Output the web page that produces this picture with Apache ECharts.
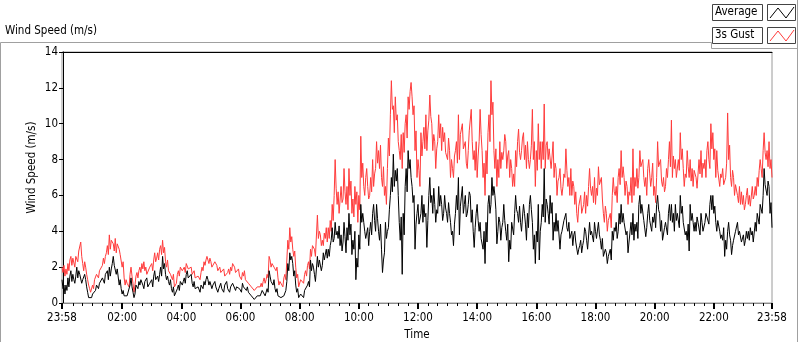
<!DOCTYPE html>
<html>
<head>
<meta charset="utf-8">
<script src="https://cdn.jsdelivr.net/npm/echarts@6/dist/echarts.min.js"></script>
<style>
  html, body { margin: 0; padding: 0; background: #fff; }
  #chart { width: 800px; height: 342px; }
</style>
</head>
<body>
<div id="chart"></div>
<script>
// one sample every 2 minutes, first one at 23:58 of the previous day
// (each row below is one hour)
const startMinute = -2
const stepMinutes = 2

const gust = [
  2.0,1.7,2.1, 1.5,1.9,1.6, 2.2,1.8,2.4, 2.6,2.1,2.5, 2.4,2.0,2.6, 2.7,2.3,2.9, 3.0,3.4,2.6, 2.2,1.8,2.3, 2.0,1.6,1.3, 1.0,0.8,0.6,
  0.7,1.0,0.8, 1.3,1.2,1.6, 1.5,1.4,1.8, 1.9,1.7,2.1, 2.5,2.2,2.6, 2.8,3.2,2.7, 3.8,3.0,3.5, 3.6,3.3,2.9, 3.6,2.8,3.3, 3.2,3.0,2.7,
  2.6,2.0,2.3, 1.4,1.0,1.3, 1.1,1.2,0.9, 1.6,2.0,1.5, 1.1,0.6,1.0, 1.5,1.7,1.4, 1.8,2.0,1.7, 2.2,1.9,2.3, 1.8,2.0,1.6, 1.7,1.7,2.0,
  1.9,2.2,1.8, 2.4,2.8,2.3, 2.5,2.8,2.4, 3.0,3.2,2.7, 3.5,2.8,3.1, 2.3,2.0,2.4, 1.8,1.9,1.6, 1.5,1.3,1.6, 0.9,0.8,1.1, 1.6,1.8,1.5,
  2.0,2.1,1.8, 1.9,2.0,1.7, 2.2,2.1,1.9, 1.9,1.8,2.0, 1.6,1.5,1.8, 1.4,1.3,1.5, 1.5,1.6,1.3, 1.7,2.0,1.8, 2.3,2.1,2.4, 2.6,2.5,2.2,
  2.5,2.3,2.0, 2.1,2.0,2.3, 2.2,2.1,1.8, 1.9,2.0,1.7, 1.8,1.6,1.9, 1.5,1.6,1.4, 1.7,1.9,1.6, 2.0,1.8,2.2, 2.1,2.0,1.7, 1.8,1.7,1.9,
  1.5,1.6,1.3, 1.7,1.5,1.8, 1.3,1.2,1.4, 1.1,1.0,1.2, 0.9,0.8,1.0, 0.7,0.8,0.6, 0.9,1.0,0.8, 0.9,1.1,0.9, 1.2,1.4,1.1, 1.3,1.6,1.4,
  2.6,2.4,2.0, 2.2,2.3,2.0, 2.1,1.8,2.0, 1.4,1.0,1.2, 1.1,1.2,0.9, 1.4,1.6,1.3, 2.4,3.5,3.0, 4.2,3.4,3.7, 3.0,2.6,2.9, 2.0,1.4,1.6,
  0.9,1.0,1.3, 1.2,1.3,1.1, 1.6,1.8,1.5, 2.1,2.3,1.9, 3.0,2.6,3.2, 3.3,3.0,2.6, 2.7,4.9,3.6, 4.0,3.8,3.2, 3.5,3.2,3.9, 3.6,4.2,3.4,
  4.2,3.6,4.6, 4.0,5.5,4.6, 6.0,8.0,6.4, 5.5,6.2,5.0, 5.0,6.5,5.6, 5.8,7.5,6.2, 5.5,6.5,5.2, 7.5,6.0,6.8, 5.0,5.8,4.8, 6.5,5.5,6.2,
  4.5,6.0,5.2, 9.3,7.0,7.8, 6.5,6.0,7.0, 7.5,6.5,5.8, 6.0,7.0,6.2, 8.0,6.5,7.2, 7.5,9.0,7.8, 8.5,7.5,8.8, 7.0,6.5,7.6, 6.0,6.5,5.5,
  7.5,9.2,8.2, 10.5,12.4,10.8, 11.0,9.5,11.5, 10.2,10.5,9.0, 8.5,8.0,9.4, 7.5,9.5,8.4, 10.0,10.5,9.2, 11.5,10.8,11.8, 12.3,11.5,10.5, 11.0,8.5,9.6,
  7.0,8.0,7.4, 6.5,9.5,8.2, 9.0,9.8,8.6, 10.5,8.5,9.6, 10.2,11.6,10.4, 10.0,8.5,9.4, 9.0,7.5,8.6, 9.0,10.5,9.2, 10.0,8.5,9.8, 9.0,9.5,8.4,
  8.5,8.0,9.2, 8.5,7.0,8.0, 7.5,7.0,8.2, 8.5,9.0,7.8, 10.5,8.0,9.4, 9.5,10.0,8.6, 8.5,9.0,7.8, 7.5,8.5,9.6, 9.5,10.8,9.0, 8.0,8.5,7.4,
  9.0,7.0,8.2, 9.0,10.8,9.4, 8.5,7.0,7.8, 6.0,8.5,7.2, 9.5,10.5,9.0, 12.4,10.5,11.2, 8.5,7.5,8.6, 6.5,8.0,7.0, 9.0,7.5,8.4, 8.0,8.5,9.4,
  9.0,7.5,8.2, 8.5,7.0,8.0, 7.5,6.5,7.2, 6.5,8.5,7.6, 9.0,9.7,8.4, 8.0,8.5,9.2, 9.5,8.0,8.8, 7.5,9.0,8.0, 7.5,8.0,8.8, 10.8,8.0,9.0,
  6.5,8.5,7.4, 10.0,8.0,9.0, 7.5,9.0,8.0, 11.1,7.5,8.8, 9.0,8.0,8.6, 8.5,7.5,8.2, 9.0,7.0,7.8, 7.5,6.0,6.8, 7.0,7.5,6.4, 6.0,6.5,7.2,
  7.0,8.6,7.4, 6.5,7.0,6.0, 7.5,6.0,6.8, 6.5,5.5,6.2, 5.0,4.5,5.4, 5.5,6.0,5.0, 5.0,5.5,6.2, 5.0,6.0,5.4, 6.5,7.5,6.4, 6.0,6.5,5.6,
  7.0,5.5,6.4, 6.0,7.6,6.6, 6.5,7.0,5.8, 5.0,4.5,5.4, 5.0,4.0,4.6, 4.5,5.0,4.2, 6.0,7.0,6.2, 6.0,6.5,5.6, 7.0,7.5,6.6, 8.5,7.0,7.6,
  7.0,6.0,6.8, 6.5,5.5,6.2, 6.0,7.0,5.6, 8.6,6.0,7.0, 6.5,7.5,6.4, 7.0,8.5,7.6, 7.5,8.0,7.0, 6.5,7.0,6.0, 7.5,8.0,7.2, 6.5,7.0,7.8,
  6.0,6.5,5.6, 7.0,9.0,7.6, 7.5,8.0,6.8, 6.5,7.0,6.2, 6.5,7.5,7.0, 8.0,9.0,7.6, 10.2,7.0,8.2, 7.5,8.0,7.0, 7.0,8.0,7.4, 9.5,8.0,8.6,
  7.5,6.5,7.2, 7.0,8.5,7.6, 7.0,8.0,6.8, 7.5,6.5,7.4, 7.5,7.0,6.4, 6.5,8.0,7.2, 8.5,7.0,7.8, 7.5,8.0,7.0, 8.5,9.0,8.0, 7.5,10.0,8.6,
  9.5,8.0,8.6, 7.0,8.5,7.4, 7.5,6.5,7.2, 7.0,7.5,6.6, 6.5,7.0,7.8, 10.6,8.0,8.8, 7.0,6.5,7.4, 7.0,6.0,6.6, 6.5,6.0,5.6, 6.5,5.5,6.2,
  5.5,6.0,5.2, 5.5,6.0,6.4, 5.5,6.0,5.4, 5.5,6.5,5.8, 6.0,6.5,6.0, 7.0,6.5,7.4, 8.0,7.5,7.0, 8.5,9.5,8.4, 8.0,8.5,7.6, 9.0,7.5,8.0,
  7.0
]

const average = [
  1.3,0.8,1.0, 0.5,1.0,0.7, 1.4,0.9,1.5, 1.8,1.2,1.6, 1.3,1.1,1.5, 2.0,1.4,1.8, 1.6,1.5,1.1, 1.3,1.2,1.6, 1.3,0.9,0.6, 0.3,0.2,0.4,
  0.3,0.5,0.4, 0.6,0.7,1.0, 0.9,0.8,1.1, 1.2,1.0,1.4, 1.3,1.1,1.6, 1.6,1.8,1.3, 2.0,1.5,1.9, 2.2,2.6,2.1, 2.0,1.6,1.9, 1.8,1.0,1.3,
  0.8,0.5,0.7, 0.4,0.3,0.5, 0.4,0.5,0.3, 1.0,1.4,0.9, 0.6,0.3,0.5, 1.0,1.1,0.8, 1.2,1.0,1.3, 1.2,1.0,0.8, 1.2,1.1,1.4, 0.9,0.9,1.1,
  1.0,1.3,0.9, 1.5,1.8,1.3, 1.4,1.5,1.2, 1.6,2.0,1.5, 2.6,1.9,2.2, 1.6,1.3,1.5, 1.2,1.0,1.3, 0.8,0.6,0.9, 0.4,0.3,0.5, 0.8,1.0,0.7,
  1.2,1.3,1.0, 1.2,1.4,1.1, 1.6,1.8,1.4, 1.5,1.3,1.6, 1.1,0.9,1.2, 0.8,0.7,0.9, 0.9,0.9,0.6, 1.0,1.1,0.8, 1.2,1.0,1.3, 1.5,1.3,1.0,
  1.2,1.1,0.8, 1.0,1.0,1.2, 0.9,0.9,0.6, 0.8,0.9,1.1, 0.8,0.9,0.6, 1.0,0.9,1.2, 0.8,0.9,0.6, 0.9,0.8,1.1, 1.0,1.0,0.7, 0.9,0.8,1.0,
  0.8,0.9,0.6, 1.1,0.9,1.0, 0.8,0.7,0.9, 0.6,0.5,0.7, 0.4,0.3,0.5, 0.2,0.3,0.1, 0.4,0.5,0.3, 0.4,0.5,0.7, 0.6,0.6,0.4, 0.5,0.8,0.6,
  1.8,1.5,1.2, 1.2,1.0,1.3, 0.8,0.6,0.8, 0.4,0.3,0.5, 0.3,0.3,0.2, 0.4,0.5,0.7, 1.2,2.2,1.8, 2.8,2.4,2.6, 2.2,1.5,1.8, 1.0,0.6,0.8,
  0.3,0.3,0.5, 0.4,0.5,0.3, 0.7,0.8,0.6, 1.0,1.2,0.9, 2.4,1.8,2.2, 2.0,1.6,1.2, 1.3,2.6,2.0, 2.4,2.3,1.8, 2.1,2.8,2.4, 2.3,3.0,2.5,
  3.0,2.6,3.2, 3.5,4.2,3.4, 3.6,4.5,3.8, 4.0,3.6,4.3, 3.2,3.8,2.9, 3.4,4.5,3.7, 2.8,4.2,3.5, 5.0,3.8,4.4, 2.7,3.5,3.0, 4.0,1.3,2.5,
  2.0,3.8,3.0, 5.5,4.5,5.0, 4.5,4.0,3.6, 3.5,4.2,3.2, 4.0,4.5,3.8, 5.0,5.5,4.6, 4.0,5.5,4.7, 4.0,3.5,4.4, 3.0,1.7,2.4, 2.8,4.5,3.6,
  4.0,4.2,5.2, 6.0,7.0,6.2, 8.3,6.5,7.4, 6.8,7.5,6.0, 4.5,3.5,4.8, 1.6,5.0,3.8, 6.5,7.5,6.2, 8.5,7.5,8.0, 7.0,6.5,5.6, 6.0,3.0,4.4,
  5.0,5.5,4.4, 4.5,5.0,6.0, 4.5,5.5,4.8, 5.0,3.1,4.6, 6.0,7.0,5.6, 6.0,5.0,6.4, 5.5,4.5,5.2, 5.0,6.5,5.4, 6.0,5.5,4.6, 5.0,6.0,5.3,
  5.0,4.5,5.6, 5.0,4.5,3.8, 4.0,3.2,4.4, 5.0,6.0,5.2, 7.0,3.8,5.4, 5.5,6.5,5.0, 5.5,6.0,4.8, 5.0,5.5,6.2, 6.0,4.5,5.2, 4.0,3.1,4.2,
  5.0,5.5,4.6, 4.0,4.5,3.6, 3.5,3.0,4.0, 2.2,4.5,3.4, 5.5,6.0,5.0, 5.5,7.0,6.0, 6.5,6.0,5.2, 3.3,4.0,4.8, 4.5,3.5,4.2, 4.5,5.5,4.6,
  4.0,3.5,4.4, 2.3,3.5,3.0, 4.5,4.5,3.8, 5.0,6.0,5.2, 5.0,4.5,5.4, 4.5,4.0,4.8, 5.5,5.0,4.4, 3.5,5.0,4.2, 5.5,6.0,5.2, 4.5,3.0,3.8,
  2.2,4.0,3.4, 5.5,2.4,4.0, 4.5,5.5,4.8, 7.5,4.5,5.8, 5.5,5.0,4.4, 6.0,5.0,5.6, 3.5,4.5,4.0, 5.0,4.0,4.6, 4.5,3.0,3.8, 4.0,4.0,4.6,
  4.5,5.0,4.2, 4.0,4.5,3.6, 3.5,4.0,3.2, 3.8,4.0,3.4, 3.5,2.7,3.0, 3.2,3.5,2.8, 3.2,3.5,4.2, 4.0,3.5,3.0, 3.0,4.5,3.8, 4.0,4.0,3.4,
  4.5,4.0,3.6, 3.5,4.5,3.8, 3.5,3.0,3.6, 2.6,2.5,3.0, 2.8,2.2,2.6, 2.5,3.0,2.4, 4.0,3.5,4.2, 4.0,4.5,3.6, 4.0,5.0,4.4, 5.5,4.5,5.0,
  4.5,4.5,3.8, 4.0,2.8,3.4, 3.3,4.5,3.8, 5.0,3.5,4.4, 4.0,4.5,3.6, 5.5,6.0,5.0, 5.5,5.5,4.6, 4.5,3.7,4.2, 5.0,5.5,4.6, 4.5,4.0,4.8,
  4.5,5.0,4.2, 5.5,6.0,5.2, 5.0,4.0,4.6, 3.5,3.5,4.2, 4.5,4.5,3.8, 5.0,5.5,4.6, 5.5,4.5,5.0, 4.0,5.5,4.6, 5.0,5.0,4.2, 6.0,5.0,5.4,
  4.5,4.5,3.8, 4.0,3.5,4.4, 2.9,5.5,4.6, 5.0,4.5,4.0, 4.5,4.0,4.8, 4.5,4.5,3.8, 5.0,4.5,4.0, 4.0,4.5,5.0, 5.0,5.0,4.4, 5.5,6.0,5.2,
  6.0,5.0,5.4, 4.5,4.0,4.6, 4.5,4.0,3.6, 3.8,3.5,4.2, 2.6,3.5,3.0, 4.0,4.5,3.8, 3.5,2.7,3.2, 3.5,3.5,4.0, 4.0,4.5,3.8, 4.0,4.0,3.4,
  3.5,3.8,3.2, 3.5,4.0,3.6, 4.0,3.5,4.2, 3.8,4.0,3.4, 3.3,4.5,4.0, 5.0,5.0,4.4, 5.5,5.5,5.0, 6.0,7.5,6.6, 6.5,6.0,6.8, 6.5,5.0,5.6,
  4.2
]

// labelled ticks, in minutes from midnight
const labelMinutes = [-2, 120, 240, 360, 480, 600, 720, 840, 960, 1080, 1200, 1320, 1438]

const minorMinutes = []
for (let m = 20; m < 1438; m += 20) {
  if (m % 120 !== 0) minorMinutes.push(m)
}

const toPairs = arr => arr.map((v, i) => [startMinute + i * stepMinutes, v])

const fmtTime = m => {
  const t = ((m % 1440) + 1440) % 1440
  const h = Math.floor(t / 60)
  const mm = t % 60
  return String(h).padStart(2, '0') + ':' + String(mm).padStart(2, '0')
}

const FONT = '"DejaVu Sans Condensed", "DejaVu Sans", sans-serif'
const txt = { fontFamily: FONT, fontSize: 11.5, color: '#000' }

const chart = echarts.init(document.getElementById('chart'), null, { renderer: 'canvas' })

const option = {
  animation: false,
  backgroundColor: '#fff',
  textStyle: { fontFamily: FONT },
  grid: {
    left: 62, right: 28, top: 52, bottom: 39,
    outerBoundsMode: 'none',
    show: true, borderColor: '#9a9a9a', borderWidth: 1, backgroundColor: '#fff'
  },
  xAxis: [
    {
      type: 'value', min: -2, max: 1438,
      position: 'bottom',
      name: 'Time', nameLocation: 'middle', nameGap: 25,
      nameTextStyle: txt,
      axisLine: { show: true, lineStyle: { color: '#8a8a8a', width: 1 } },
      axisTick: { show: true, customValues: labelMinutes, length: 6, lineStyle: { color: '#000', width: 2 } },
      axisLabel: { customValues: labelMinutes, formatter: v => fmtTime(v), margin: 9, ...txt },
      splitLine: { show: false }
    },
    {
      type: 'value', min: -2, max: 1438,
      position: 'bottom',
      axisLine: { show: false },
      axisTick: { show: true, customValues: minorMinutes, length: 3, lineStyle: { color: '#000', width: 1 } },
      axisLabel: { show: false },
      splitLine: { show: false }
    },
    {
      type: 'value', min: -2, max: 1438,
      position: 'top',
      axisLine: { show: true, lineStyle: { color: '#000', width: 1 } },
      axisTick: { show: false },
      axisLabel: { show: false },
      splitLine: { show: false }
    }
  ],
  yAxis: {
    type: 'value', min: 0, max: 14, interval: 2,
    name: 'Wind Speed (m/s)', nameLocation: 'middle', nameGap: 24,
    nameMoveOverlap: false,
    nameTextStyle: { ...txt, padding: [0, 0, 0, 20] },
    axisLine: { show: true, lineStyle: { color: '#000', width: 1 } },
    axisTick: { show: true, length: 4, lineStyle: { color: '#000' } },
    axisLabel: { margin: 4, ...txt },
    splitLine: { show: false }
  },
  series: [
    {
      name: '3s Gust', type: 'line', data: toPairs(gust),
      showSymbol: false, symbol: 'none',
      lineStyle: { color: '#ff3b3b', width: 1 },
      z: 2
    },
    {
      name: 'Average', type: 'line', data: toPairs(average),
      showSymbol: false, symbol: 'none',
      lineStyle: { color: '#000', width: 1 },
      z: 3
    }
  ],
  graphic: [
    // outer frame and title strip
    { type: 'polyline', shape: { points: [[0.5, 342], [0.5, 42.5], [711.5, 42.5], [711.5, 48.5], [797.5, 48.5]] },
      style: { stroke: '#a0a0a0', fill: null, lineWidth: 1 }, silent: true },
    { type: 'line', shape: { x1: 797.5, y1: 0, x2: 797.5, y2: 342 },
      style: { stroke: '#a0a0a0', lineWidth: 1 }, silent: true },
    { type: 'text', left: 5, top: 25, style: { text: 'Wind Speed (m/s)', font: '11.5px ' + FONT, fill: '#000' } },
    // legend boxes
    { type: 'rect', shape: { x: 712.5, y: 4.5, width: 50, height: 16 }, style: { fill: '#fff', stroke: '#444' } },
    { type: 'text', left: 715, top: 6, style: { text: 'Average', font: '11.5px ' + FONT, fill: '#000' } },
    { type: 'rect', shape: { x: 767.5, y: 4.5, width: 28, height: 16 }, style: { fill: '#fff', stroke: '#444' } },
    { type: 'polyline', shape: { points: [[770, 18], [778, 8], [786, 18], [794, 7]] }, style: { stroke: '#000', fill: null, lineWidth: 1 } },
    { type: 'rect', shape: { x: 712.5, y: 27.5, width: 50, height: 16 }, style: { fill: '#fff', stroke: '#444' } },
    { type: 'text', left: 715, top: 29, style: { text: '3s Gust', font: '11.5px ' + FONT, fill: '#000' } },
    { type: 'rect', shape: { x: 767.5, y: 27.5, width: 28, height: 16 }, style: { fill: '#fff', stroke: '#444' } },
    { type: 'polyline', shape: { points: [[770, 41], [778, 31], [786, 41], [794, 30]] }, style: { stroke: '#ff3b3b', fill: null, lineWidth: 1 } }
  ]
}

chart.setOption(option)
</script>
</body>
</html>
